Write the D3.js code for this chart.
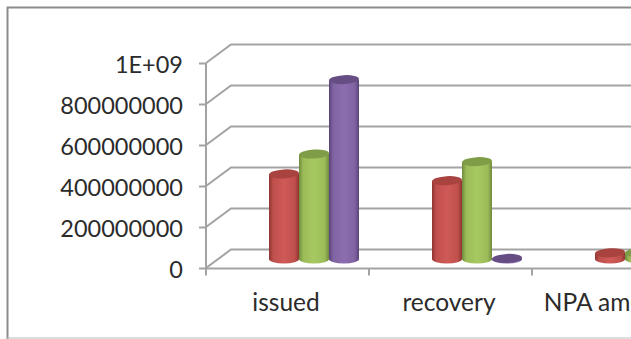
<!DOCTYPE html>
<html>
<head>
<meta charset="utf-8">
<script src="https://cdn.jsdelivr.net/npm/d3@7"></script>
<style>
html,body{margin:0;padding:0;background:#fff;}
svg{display:block;}
text{font-family:Lato,"Open Sans",sans-serif;fill:#2b2b2b;}
</style>
</head>
<body>
<svg id="chart" width="631" height="339"></svg>
<script>
const categories = ["issued", "recovery", "NPA amount"];
const seriesNames = ["Series1", "Series2", "Series3"];
const seriesColors = [
  {base:"#c0504d", light:"#cf5a57", dark:"#8f3532", top:"#a8433f"},
  {base:"#9bbb59", light:"#a7c961", dark:"#6f8a3c", top:"#7f9c46"},
  {base:"#8064a2", light:"#8c6eb0", dark:"#5a4378", top:"#664e85"}
];
const series1 = [415000000, 382000000, 30000000];
const series2 = [512000000, 475000000, 32000000];
const series3 = [875000000, 3000000, 2000000];
const yTicks = [0, 200000000, 400000000, 600000000, 800000000, 1000000000];
const yTickLabels = ["0", "200000000", "400000000", "600000000", "800000000", "1E+09"];

const svg = d3.select("#chart");

// Plot frame: front plane of the 3-D box, and how far the back wall is offset from it
const frontLeft = 206, frontBase = 268, frontTop = 63;
const depthX = 25, depthY = -18.5;

const x = d3.scaleBand().domain(categories).range([frontLeft, frontLeft + 163 * categories.length]);
const y = d3.scaleLinear().domain([0, 1000000000]).range([frontBase, frontTop]);

// Outer chart border
const grey = "#a3a3a3";
svg.append("path").attr("d", "M7.5,339V7.5H631").attr("fill", "none").attr("stroke", "#8c8c8c").attr("stroke-width", 2);
svg.append("line").attr("x1", 7).attr("x2", 631).attr("y1", 338).attr("y2", 338).attr("stroke", "#bdbdbd").attr("stroke-width", 1);

// Gridlines run along the back wall and fold down the side wall
const grid = svg.append("g").attr("fill", "none").attr("stroke", grey).attr("stroke-width", 2);
yTicks.forEach(t => {
  grid.append("path").attr("d", `M${frontLeft},${y(t)}L${frontLeft + depthX},${y(t) + depthY}H631`);
});

// Value axis and category axis, drawn with d3 axes
const yAxis = svg.append("g").attr("transform", `translate(${frontLeft},0)`)
  .call(d3.axisLeft(y).tickValues(yTicks).tickFormat((d, i) => yTickLabels[i]).tickSize(7).tickPadding(16));
const xAxis = svg.append("g").attr("transform", `translate(0,${frontBase + 0.5})`)
  .call(d3.axisBottom(x).tickSize(7).tickPadding(18));
[yAxis, xAxis].forEach(a => {
  a.selectAll(".domain").attr("stroke", grey).attr("stroke-width", 2);
  a.selectAll(".tick line").attr("stroke", grey).attr("stroke-width", 2);
  a.selectAll("text").attr("fill", "#2b2b2b");
});
yAxis.selectAll("text").style("font-size", "23.5px").attr("y", 1.5);
xAxis.selectAll("text").style("font-size", "24.5px").attr("x", -1.5);
yAxis.selectAll(".domain").attr("d", `M0,${y(0) + 6}V${y(1000000000)}`);
xAxis.selectAll(".domain").attr("d", `M${frontLeft},0H631`);
xAxis.selectAll(".tick line").attr("transform", function() {
  // Ticks sit on the band edges rather than the band centres
  return `translate(${-x.bandwidth() / 2},0)`;
});

// Gradient giving each cylinder its rounded shading
const defs = svg.append("defs");
seriesColors.forEach((c, i) => {
  const g = defs.append("linearGradient").attr("id", `cyl${i}`).attr("x1", 0).attr("x2", 1).attr("y1", 0).attr("y2", 0);
  g.append("stop").attr("offset", "0%").attr("stop-color", c.dark);
  g.append("stop").attr("offset", "14%").attr("stop-color", c.base);
  g.append("stop").attr("offset", "50%").attr("stop-color", c.light);
  g.append("stop").attr("offset", "86%").attr("stop-color", c.base);
  g.append("stop").attr("offset", "100%").attr("stop-color", c.dark);
});

// Cylinders stand mid-depth in the box
const barW = 30, ry = 4.5, floorShift = -9, groupInset = 63;
const allSeries = [series1, series2, series3];
const bars = svg.append("g");
categories.forEach((cat, ci) => {
  allSeries.forEach((vals, si) => {
    const v = vals[ci];
    const cx = x(cat) + groupInset + barW * si + barW / 2;
    const yb = y(0) + floorShift;
    const yt = y(v) + floorShift;
    const rx = barW / 2;
    const c = seriesColors[si];
    bars.append("path")
      .attr("d", `M${cx - rx},${yt}V${yb}A${rx},${ry} 0 0 0 ${cx + rx},${yb}V${yt}Z`)
      .attr("fill", `url(#cyl${si})`);
    bars.append("ellipse").attr("cx", cx).attr("cy", yt).attr("rx", rx).attr("ry", ry)
      .attr("transform", `rotate(-3 ${cx} ${yt})`).attr("fill", c.top);
  });
});
</script>
</body>
</html>
